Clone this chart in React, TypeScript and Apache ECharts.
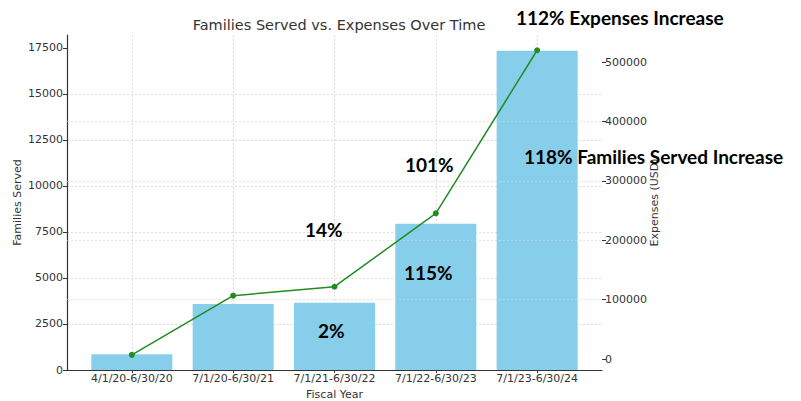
import React, { useEffect, useRef } from "react";
import * as echarts from "echarts";

const categories = [
  "4/1/20-6/30/20",
  "7/1/20-6/30/21",
  "7/1/21-6/30/22",
  "7/1/22-6/30/23",
  "7/1/23-6/30/24",
];
const familiesServed = [850, 3580, 3650, 7950, 17350];
const expenses = [7000, 106600, 121700, 245300, 519800];
const leftTicks = [0, 2500, 5000, 7500, 10000, 12500, 15000, 17500];
const rightTicks = [0, 100000, 200000, 300000, 400000, 500000];
const categoryTicks = [0, 1, 2, 3, 4];
const annotationTexts = [
  "112% Expenses Increase",
  "118% Families Served Increase",
  "101%",
  "14%",
  "115%",
  "2%",
];

const tickFont = { fontFamily: "DejaVu Sans", fontSize: 11, color: "#333" };
const annFont = { fontFamily: "Lato", fontWeight: "bold" as const, fontSize: 19, fill: "#000" };

export default function App() {
  const ref = useRef<HTMLDivElement>(null);
  useEffect(() => {
    document.body.style.margin = "0";
    const chart = echarts.init(ref.current!, undefined, { renderer: "svg" });
    const grid = { left: 67, right: 199, top: 35, bottom: 31, containLabel: false, outerBoundsMode: "none" };
    const ann = (i: number, x: number, y: number) => ({
      type: "text",
      x,
      y,
      z: 100,
      style: { text: annotationTexts[i], ...annFont, textVerticalAlign: "middle" },
    });
    chart.setOption({
      animation: false,
      title: {
        text: "Families Served vs. Expenses Over Time",
        left: 334,
        textAlign: "center",
        top: 12,
        textStyle: { fontFamily: "DejaVu Sans", fontSize: 14.5, fontWeight: "normal", color: "#333" },
      },
      grid,
      xAxis: {
        type: "value",
        min: -0.64,
        max: 4.64,
        name: "Fiscal Year",
        nameLocation: "middle",
        nameGap: 18,
        nameTextStyle: { fontFamily: "DejaVu Sans", fontSize: 11, color: "#333" },
        axisLine: { show: true, onZero: false, lineStyle: { color: "#333", width: 1.2 } },
        axisTick: { show: true, customValues: categoryTicks, length: 3, lineStyle: { color: "#333" } },
        axisLabel: {
          customValues: categoryTicks,
          formatter: (v: number) => categories[Math.round(v)] ?? "",
          margin: 3,
          ...tickFont,
        },
        splitLine: { show: true, lineStyle: { type: [2, 2], color: "#d4d4d4", width: 0.8 } },
      },
      yAxis: [
        {
          type: "value",
          min: 0,
          max: 18200,
          name: "Families Served",
          nameLocation: "middle",
          nameGap: 44,
          nameMoveOverlap: false,
          nameTextStyle: { fontFamily: "DejaVu Sans", fontSize: 11, color: "#333" },
          axisLine: { show: true, onZero: false, lineStyle: { color: "#333", width: 1.2 } },
          axisTick: { show: true, customValues: leftTicks, length: 4, lineStyle: { color: "#333" } },
          axisLabel: { customValues: leftTicks, margin: 4, formatter: (v: number) => String(v), ...tickFont },
          splitLine: {
            show: true,
            showMinLine: false,
            showMaxLine: false,
            lineStyle: { type: [2, 2], color: "#d4d4d4", width: 0.8 },
          },
        },
        {
          type: "value",
          position: "right",
          min: -18500,
          max: 545500,
          z: 3,
          name: "Expenses (USD)",
          nameLocation: "middle",
          nameGap: 47,
          nameMoveOverlap: false,
          nameTextStyle: { fontFamily: "DejaVu Sans", fontSize: 11, color: "#333" },
          axisLine: { show: false, onZero: false },
          axisTick: { show: true, customValues: rightTicks, length: 4, lineStyle: { color: "#333" } },
          axisLabel: { customValues: rightTicks, margin: 3, formatter: (v: number) => String(v), ...tickFont },
          splitLine: {
            show: true,
            showMinLine: false,
            showMaxLine: false,
            lineStyle: { type: [2, 2], color: "#d4d4d4", width: 0.8, opacity: 0.8 },
          },
        },
      ],
      series: [
        {
          type: "bar",
          name: "Families Served",
          xAxisIndex: 0,
          yAxisIndex: 0,
          barWidth: 81,
          itemStyle: { color: "#87CEEB" },
          data: familiesServed.map((v, i) => [i, v]),
        },
        {
          type: "line",
          name: "Expenses",
          xAxisIndex: 0,
          yAxisIndex: 1,
          z: 5,
          symbol: "circle",
          symbolSize: 6,
          lineStyle: { color: "#228B22", width: 1.5 },
          itemStyle: { color: "#228B22" },
          data: expenses.map((v, i) => [i, v]),
        },
      ],
      graphic: [
        ann(0, 516, 17),
        ann(1, 524, 156),
        ann(2, 405, 164),
        ann(3, 305, 229),
        ann(4, 404, 272),
        ann(5, 318, 330),
      ],
    });
    return () => chart.dispose();
  }, []);
  return <div ref={ref} style={{ width: 801, height: 401 }} />;
}
